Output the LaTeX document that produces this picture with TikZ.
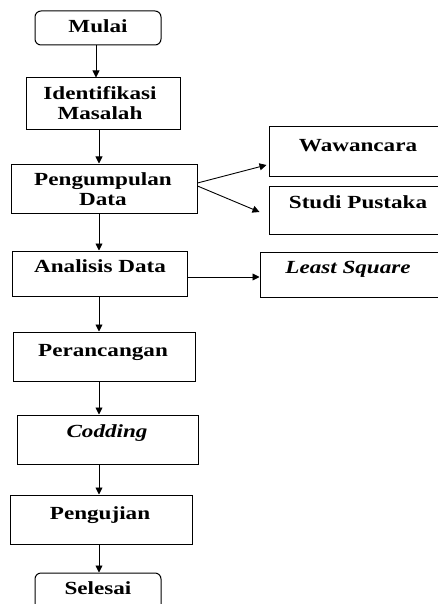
\documentclass[tikz,border=0pt]{standalone}
\usepackage{fontspec}
\setmainfont{Liberation Serif}[FakeStretch=1.25]
\usetikzlibrary{arrows.meta,calc}
\begin{document}
\begin{tikzpicture}[x=1pt,y=-1pt,
  box/.style={draw, line width=1pt, inner sep=0pt},
  rbox/.style={box, rounded corners=6pt},
  txt/.style={font=\fontsize{18.5}{20}\selectfont\bfseries, inner sep=0pt, anchor=base, align=center},
  arr/.style={line width=0.9pt, -{Triangle[width=7pt,length=7pt]}}]
\useasboundingbox (0,0) rectangle (438,604);
\clip (0,0) rectangle (438,604);
% boxes
\node[rbox, minimum width=126pt, minimum height=34pt] (mulai) at (98,28) {};
\node[box, minimum width=154pt, minimum height=52pt] (ident) at (103,104) {};
\node[box, minimum width=186pt, minimum height=49pt] (pengum) at (104,188.5) {};
\node[box, minimum width=175pt, minimum height=45pt] (anal) at (99.5,273.5) {};
\node[box, minimum width=182pt, minimum height=49pt] (peran) at (104,356.5) {};
\node[box, minimum width=181pt, minimum height=49pt] (codd) at (107.5,439.5) {};
\node[box, minimum width=182pt, minimum height=49pt] (uji) at (101,519.5) {};
\node[rbox, minimum width=126pt, minimum height=42pt] (seles) at (98,594) {};
\node[box, minimum width=191pt, minimum height=49pt] (waw) at (364.5,151.5) {};
\node[box, minimum width=191pt, minimum height=48pt] (studi) at (364.5,210) {};
\node[box, minimum width=200pt, minimum height=45pt] (ls) at (360,274.5) {};
% texts
\node[txt] (tmulai) at (98,33) {Mulai};
\node[txt, anchor=center] (tident) at (100,103.2) {Identifikasi\\Masalah};
\node[txt, anchor=center] (tpengum) at (103,188.7) {Pengumpulan\\Data};
\node[txt] (tanal) at (100,272) {Analisis Data};
\node[txt] (tperan) at (103,356) {Perancangan};
\node[txt] (tcodd) at (107,437) {\itshape Codding};
\node[txt] (tuji) at (100,519) {Pengujian};
\node[txt] (tseles) at (98,594) {Selesai};
\node[txt] (twaw) at (358,152) {Wawancara};
\node[txt] (tstudi) at (358,208) {Studi Pustaka};
\node[txt] (tls) at (348,273) {\itshape Least Square};
% connectors
\coordinate (c1) at (96,0);
\coordinate (c2) at (99,0);
\draw[arr] (mulai.south -| c1) -- (ident.north -| c1);
\draw[arr] (ident.south -| c2) -- (pengum.north -| c2);
\draw[arr] (pengum.south -| c2) -- (anal.north -| c2);
\draw[arr] (anal.south -| c2) -- (peran.north -| c2);
\draw[arr] (peran.south -| c2) -- (codd.north -| c2);
\draw[arr] (codd.south -| c2) -- (uji.north -| c2);
\draw[arr] (uji.south -| c2) -- (seles.north -| c2);
\draw[arr] ([yshift=5.5pt]pengum.east) -- ([xshift=-2pt,yshift=-13.5pt]waw.west);
\draw[arr] ([yshift=2.5pt]pengum.east) -- ([xshift=-9pt,yshift=-2pt]studi.west);
\draw[arr] ([yshift=-3.5pt]anal.east) -- ([yshift=-2.5pt]ls.west);
\end{tikzpicture}
\end{document}
